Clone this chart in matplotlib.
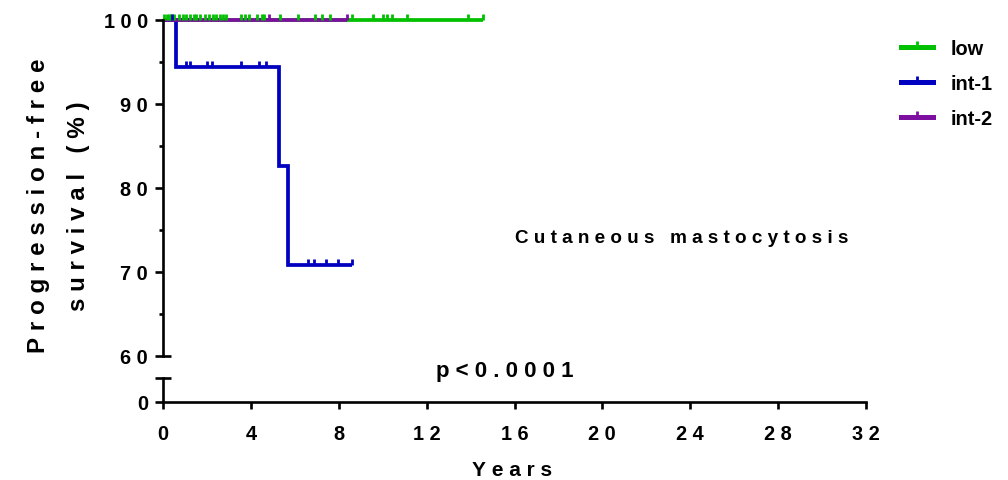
import numpy as np
import matplotlib
matplotlib.use("Agg")
import matplotlib.pyplot as plt
from matplotlib.lines import Line2D

plt.rcParams['font.family'] = ['Liberation Sans', 'DejaVu Sans']
plt.rcParams['font.weight'] = 'bold'

# Kaplan-Meier step data (years, % progression-free)
low_times = [0.0]
low_surv = [100.0]
low_end = 14.55
low_censor = [0.05, 0.15, 0.25, 0.35, 0.5, 0.7, 0.9, 1.05, 1.2, 1.4, 1.5, 1.65,
              1.9, 2.1, 2.25, 2.4, 2.6, 2.7, 2.85, 3.55, 3.7, 3.9, 4.25, 4.5,
              4.6, 5.3, 6.15, 6.9, 7.25, 7.6, 8.6, 9.55, 10.0, 10.2, 10.4,
              11.1, 13.9, 14.55]

int1_times = [0.0, 0.6, 5.27, 5.68]
int1_surv = [100.0, 94.4, 82.6, 70.8]
int1_end = 8.6
int1_censor = [0.4, 1.04, 1.23, 2.0, 2.24, 3.52, 4.34, 4.66,
               6.58, 6.87, 7.41, 7.96, 8.6]

int2_times = [0.0]
int2_surv = [100.0]
int2_end = 8.38
int2_censor = [4.8, 8.35]

group_names = ["low", "int-1", "int-2"]
group_colors = ["#00C000", "#0000C0", "#7D0FA0"]

x_ticks = [0, 4, 8, 12, 16, 20, 24, 28, 32]
y_ticks = [60, 70, 80, 90, 100]
y_minor = [65, 75, 85, 95]

title_text = "Cutaneous mastocytosis"
p_text = "p<0.0001"
x_title = "Years"
y_title = "Progression-free\nsurvival (%)"


def tracked(s, gap="\u2008"):
    """Letter-space a label by putting a narrow space between characters."""
    return "\n".join(gap.join(line) for line in s.split("\n"))


W, H = 1008, 481
fig = plt.figure(figsize=(W / 100, H / 100), dpi=100)

x0, x1 = 163.3, 865.7
ax = fig.add_axes([x0 / W, (H - 356.7) / H, (x1 - x0) / W, (356.7 - 20.7) / H])
axb = fig.add_axes([x0 / W, (H - 403) / H, (x1 - x0) / W, (403 - 379.3) / H])

spine_lw = 1.9
label_fs = 14.4

# upper (60-100 %) segment
ax.set_xlim(0, 32)
ax.set_ylim(60, 100)
for s in ["top", "right", "bottom"]:
    ax.spines[s].set_visible(False)
ax.spines["left"].set_linewidth(spine_lw)
ax.set_xticks([])
ax.set_yticks(y_ticks)
ax.set_yticklabels([tracked(str(t)) for t in y_ticks])
ax.set_yticks(y_minor, minor=True)
ax.tick_params(axis="y", which="major", length=6, width=spine_lw,
               labelsize=label_fs, pad=5)
ax.tick_params(axis="y", which="minor", length=3, width=spine_lw)
for lbl in ax.get_yticklabels():
    lbl.set_fontweight("bold")
ax.patch.set_visible(False)

# lower (0 %) segment with the broken axis
axb.set_xlim(0, 32)
axb.set_ylim(0, 1)
for s in ["top", "right"]:
    axb.spines[s].set_visible(False)
axb.spines["left"].set_linewidth(spine_lw)
axb.spines["bottom"].set_linewidth(spine_lw)
axb.set_yticks([0])
axb.set_yticklabels(["0"])
axb.set_xticks(x_ticks)
axb.set_xticklabels([tracked(str(t)) for t in x_ticks])
axb.tick_params(axis="y", length=6, width=spine_lw, labelsize=label_fs, pad=5)
axb.tick_params(axis="x", length=5, width=spine_lw, labelsize=label_fs, pad=11)
for lbl in axb.get_xticklabels() + axb.get_yticklabels():
    lbl.set_fontweight("bold")
axb.patch.set_visible(False)

# break caps on both segments
cap = 8 / (x1 - x0)
ax.plot([0, cap], [0, 0], transform=ax.transAxes, color="black",
        lw=spine_lw, clip_on=False, solid_capstyle="butt")
axb.plot([-cap, cap], [1, 1], transform=axb.transAxes, color="black",
         lw=spine_lw, clip_on=False, solid_capstyle="butt")

line_lw = 2.7
groups = [
    (low_times, low_surv, low_end, low_censor),
    (int1_times, int1_surv, int1_end, int1_censor),
    (int2_times, int2_surv, int2_end, int2_censor),
]

for (t, s, end, _), color in zip(groups, group_colors):
    xs = list(t) + [end]
    ys = list(s) + [s[-1]]
    ax.step(xs, ys, where="post", color=color, lw=line_lw, clip_on=False,
            solid_joinstyle="miter", solid_capstyle="butt")

for (t, s, end, cens), color in zip(groups, group_colors):
    idx = np.searchsorted(t, cens, side="right") - 1
    cy = np.asarray(s)[idx]
    ax.plot(cens, cy, linestyle="none", marker=2, markersize=4.5,
            markeredgewidth=2.0, color=color, clip_on=False)

# legend
handles = [Line2D([0], [0], color=c, lw=3.6, marker=2, markersize=4.5,
                  markeredgewidth=2.0) for c in group_colors]
fig.legend(handles, group_names, loc="upper left",
           bbox_to_anchor=(901 / W, 1 - 40 / H), frameon=False,
           prop={"weight": "bold", "size": label_fs}, numpoints=1,
           handlelength=1.6, handletextpad=0.9, labelspacing=0.8,
           borderaxespad=0, borderpad=0)

ax.text(23.6, 74.1, tracked(title_text), ha="center", va="center",
        fontsize=13.6, fontweight="bold")
fig.text(505 / W, 1 - 372 / H, tracked(p_text), ha="center", va="center",
         fontsize=16, fontweight="bold")
fig.text(512 / W, 1 - 470.5 / H, tracked(x_title), ha="center", va="center",
         fontsize=15, fontweight="bold")
fig.text(58.5 / W, 1 - 206 / H, tracked(y_title),
         rotation=90, ha="center", va="center", fontsize=17.4,
         fontweight="bold", linespacing=1.95, multialignment="center")

fig.savefig("out.png", dpi=100)
